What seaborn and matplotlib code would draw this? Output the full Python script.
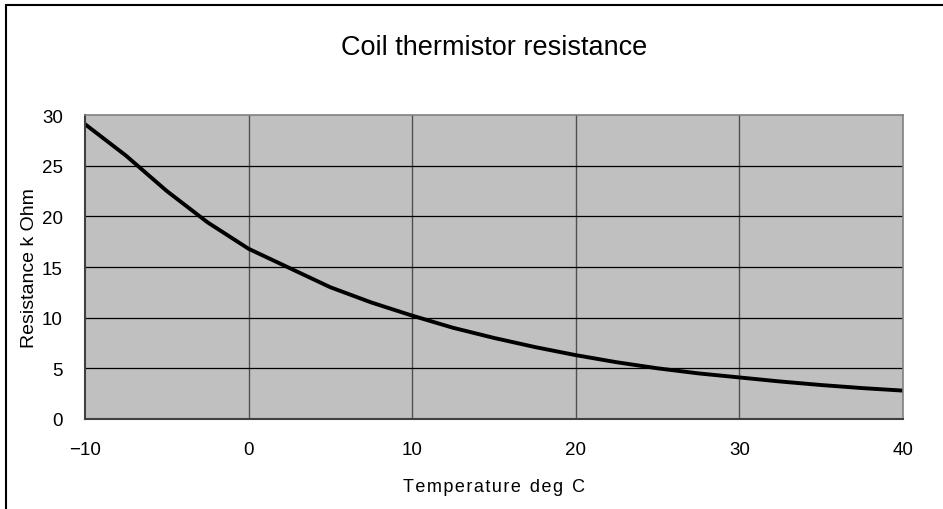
import matplotlib.pyplot as plt
from matplotlib.lines import Line2D
import pandas as pd
import seaborn as sns

# Coil thermistor: temperature (deg C) vs resistance (k Ohm)
temperature = [-10, -7.5, -5, -2.5, 0, 2.5, 5, 7.5, 10, 12.5, 15, 17.5,
               20, 22.5, 25, 27.5, 30, 32.5, 35, 37.5, 40]
resistance = [29.1, 26.0, 22.5, 19.4, 16.8, 14.9, 13.0, 11.5, 10.2, 9.0, 8.0, 7.1,
              6.3, 5.6, 5.0, 4.5, 4.1, 3.7, 3.35, 3.05, 2.8]
x_ticks = [-10, 0, 10, 20, 30, 40]
y_ticks = [0, 5, 10, 15, 20, 25, 30]

sns.set_theme(style="white")
plt.rcParams["font.family"] = ["Liberation Sans", "DejaVu Sans"]
plt.rcParams["text.color"] = "black"
plt.rcParams["axes.labelcolor"] = "black"

df = pd.DataFrame({"temp": temperature, "res": resistance})

fig = plt.figure(figsize=(9.43, 5.10), dpi=100)
ax = fig.add_axes([0.0901, 0.1765, 0.8675, 0.596])
ax.set_facecolor("#C0C0C0")

sns.lineplot(data=df, x="temp", y="res", color="black", linewidth=2.8, ax=ax)

ax.set_xlim(-10, 40)
ax.set_ylim(0, 30)
ax.set_xticks(x_ticks)
ax.set_yticks(y_ticks)
ax.set_xticklabels(["\u221210" if t < 0 else str(t) for t in x_ticks])

# grid: dark gray verticals, black horizontals
for t in x_ticks[1:-1]:
    ax.axvline(t, color="#505050", linewidth=1.0, zorder=0.5)
for v in y_ticks[1:-1]:
    ax.axhline(v, color="black", linewidth=0.9, zorder=0.5)

for side in ["left", "bottom"]:
    ax.spines[side].set_color("#404040")
    ax.spines[side].set_linewidth(1.5)
for side in ["top", "right"]:
    ax.spines[side].set_color("#808080")
    ax.spines[side].set_linewidth(1.2)

ax.tick_params(axis="both", direction="in", length=4, width=1, color="#404040",
               labelsize=13.5, labelcolor="black")
ax.tick_params(axis="x", pad=16)
ax.tick_params(axis="y", pad=16)

ax.set_xlabel("T e m p e r a t u r e   d e g   C".replace("   ", "\u2002").replace(" ", "\u200a"),
              fontsize=13, labelpad=14)
ax.set_ylabel("Resistance k Ohm", fontsize=14, labelpad=3)
ax.set_title("Coil thermistor resistance", fontsize=19.5, pad=44, color="black")

# outer frame (top and left edges visible)
fig.add_artist(Line2D([0.006, 0.006], [0.0, 0.988], color="black", linewidth=1.5,
                      transform=fig.transFigure))
fig.add_artist(Line2D([0.006, 1.0], [0.988, 0.988], color="black", linewidth=1.5,
                      transform=fig.transFigure))

plt.savefig("out.png", dpi=100)
plt.close()
